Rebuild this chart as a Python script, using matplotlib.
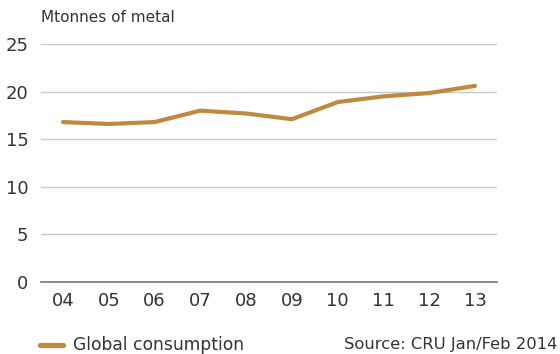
import matplotlib.pyplot as plt

years = ["04", "05", "06", "07", "08", "09", "10", "11", "12", "13"]
consumption = [16.8, 16.6, 16.8, 18.0, 17.7, 17.1, 18.9, 19.5, 19.85, 20.6]
y_ticks = [0, 5, 10, 15, 20, 25]

LINE = "#C08A3E"
TEXT = "#333333"

plt.rcParams["font.family"] = ["DejaVu Sans"]

fig = plt.figure(figsize=(5.6, 3.54), dpi=100)
ax = fig.add_axes([41 / 560, 1 - 282 / 354, (497 - 41) / 560, (282 - 44) / 354])

x = list(range(len(years)))
ax.plot(x, consumption, color=LINE, linewidth=3.0, solid_capstyle="round", zorder=3)

ax.set_xlim(-0.48, len(years) - 1 + 0.48)
ax.set_ylim(0, 25)
ax.set_yticks(y_ticks)
ax.set_xticks(x)
ax.set_xticklabels(years)
ax.grid(axis="y", color="#c8c8c8", linewidth=1)
ax.set_axisbelow(True)
for side in ["top", "right", "left"]:
    ax.spines[side].set_visible(False)
ax.spines["bottom"].set_color("#777777")
ax.spines["bottom"].set_linewidth(1.2)
ax.tick_params(length=0, labelsize=13, colors=TEXT)
ax.tick_params(axis="y", pad=9)
ax.tick_params(axis="x", pad=7)

fig.text(41 / 560, 1 - 17 / 354, "Mtonnes of metal", fontsize=11, color=TEXT,
         ha="left", va="center")

# legend entry and source note along the bottom
fig.add_artist(plt.Line2D([40 / 560, 63 / 560], [1 - 345 / 354] * 2, color=LINE,
                          linewidth=3.8, solid_capstyle="round", transform=fig.transFigure))
fig.text(73 / 560, 1 - 345 / 354, "Global consumption", fontsize=12.3, color=TEXT,
         ha="left", va="center")
fig.text(557 / 560, 1 - 345 / 354, "Source: CRU Jan/Feb 2014", fontsize=11.8, color=TEXT,
         ha="right", va="center")

fig.savefig("out.png", dpi=100)
